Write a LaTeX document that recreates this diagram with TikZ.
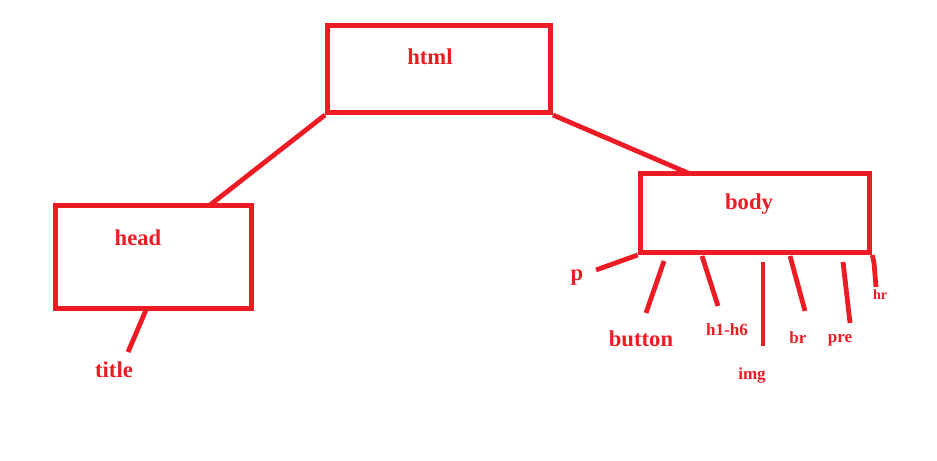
\documentclass[tikz,border=0pt]{standalone}
\usepackage{fontspec}
\setmainfont{Liberation Serif}
\usepackage{tikz}
\usetikzlibrary{positioning}
\definecolor{paintred}{HTML}{ED1C24}
\tikzset{
tag box/.style = { rectangle, draw = paintred, line width = 4pt, inner sep = 0pt, fill = white },
tag/.style = { text = paintred, font = \bfseries\fontsize{17}{19}\selectfont, inner sep = 0pt },
small tag/.style = { tag, font = \bfseries\fontsize{12.8}{14}\selectfont },
tiny tag/.style = { tag, font = \bfseries\fontsize{10.5}{12}\selectfont },
branch/.style = { draw = paintred, line width = 3.6pt },
}

\begin{document}
\begin{tikzpicture}[x = 0.75pt, y = -0.75pt]
    \useasboundingbox (0, 0) rectangle (937, 460);
    % boxes
    \node[tag box, minimum width = 167pt, minimum height = 65pt] (html) at (439, 69) {};
    \node[tag box, minimum width = 147pt, minimum height = 77pt] (head) at (153.5, 257) {};
    \node[tag box, minimum width = 172pt, minimum height = 59pt] (body) at (755, 213) {};
    \node[tag] (html text) at (430, 57) {html};
    \node[tag] (head text) at (138, 238) {head};
    \node[tag] (body text) at (749, 204) {body};
    % leaves
    \node[tag] (title) at (114, 370) {title};
    \node[tag] (p) at (577, 278) {p};
    \node[tag] (button) at (641, 339) {button};
    \node[small tag] (h1h6) at (727, 330) {h1-h6};
    \node[small tag] (img) at (752, 375) {img};
    \node[small tag] (br) at (798, 338) {br};
    \node[small tag] (pre) at (840, 340) {pre};
    \node[tiny tag] (hr) at (880, 295) {hr};
    % free ends
    \coordinate (head top) at (210, 205);
    \coordinate (body top) at (688, 173);
    \coordinate (title end) at (128, 352);
    \coordinate (head bottom) at (146, 310);
    \coordinate (p end) at (596, 270);
    \coordinate (button start) at (664, 261);
    \coordinate (button end) at (646, 313);
    \coordinate (h1h6 start) at (702, 256);
    \coordinate (h1h6 end) at (718, 306);
    \coordinate (img start) at (763, 262);
    \coordinate (img end) at (763, 346);
    \coordinate (br start) at (790, 256);
    \coordinate (br end) at (805, 311);
    \coordinate (pre start) at (843, 262);
    \coordinate (pre end) at (850, 323);
    \coordinate (hr bend) at (874, 263);
    \coordinate (hr end) at (876, 287);
    % connectors
    \path[branch] (html.south west) -- (head top);
    \path[branch] (html.south east) -- (body top);
    \path[branch] (head bottom) -- (title end);
    \path[branch] (body.south west) -- (p end);
    \path[branch] (button start) -- (button end);
    \path[branch] (h1h6 start) -- (h1h6 end);
    \path[branch] (img start) -- (img end);
    \path[branch] (br start) -- (br end);
    \path[branch] (pre start) -- (pre end);
    \path[branch] (body.south east) -- (hr bend) -- (hr end);
\end{tikzpicture}
\end{document}
